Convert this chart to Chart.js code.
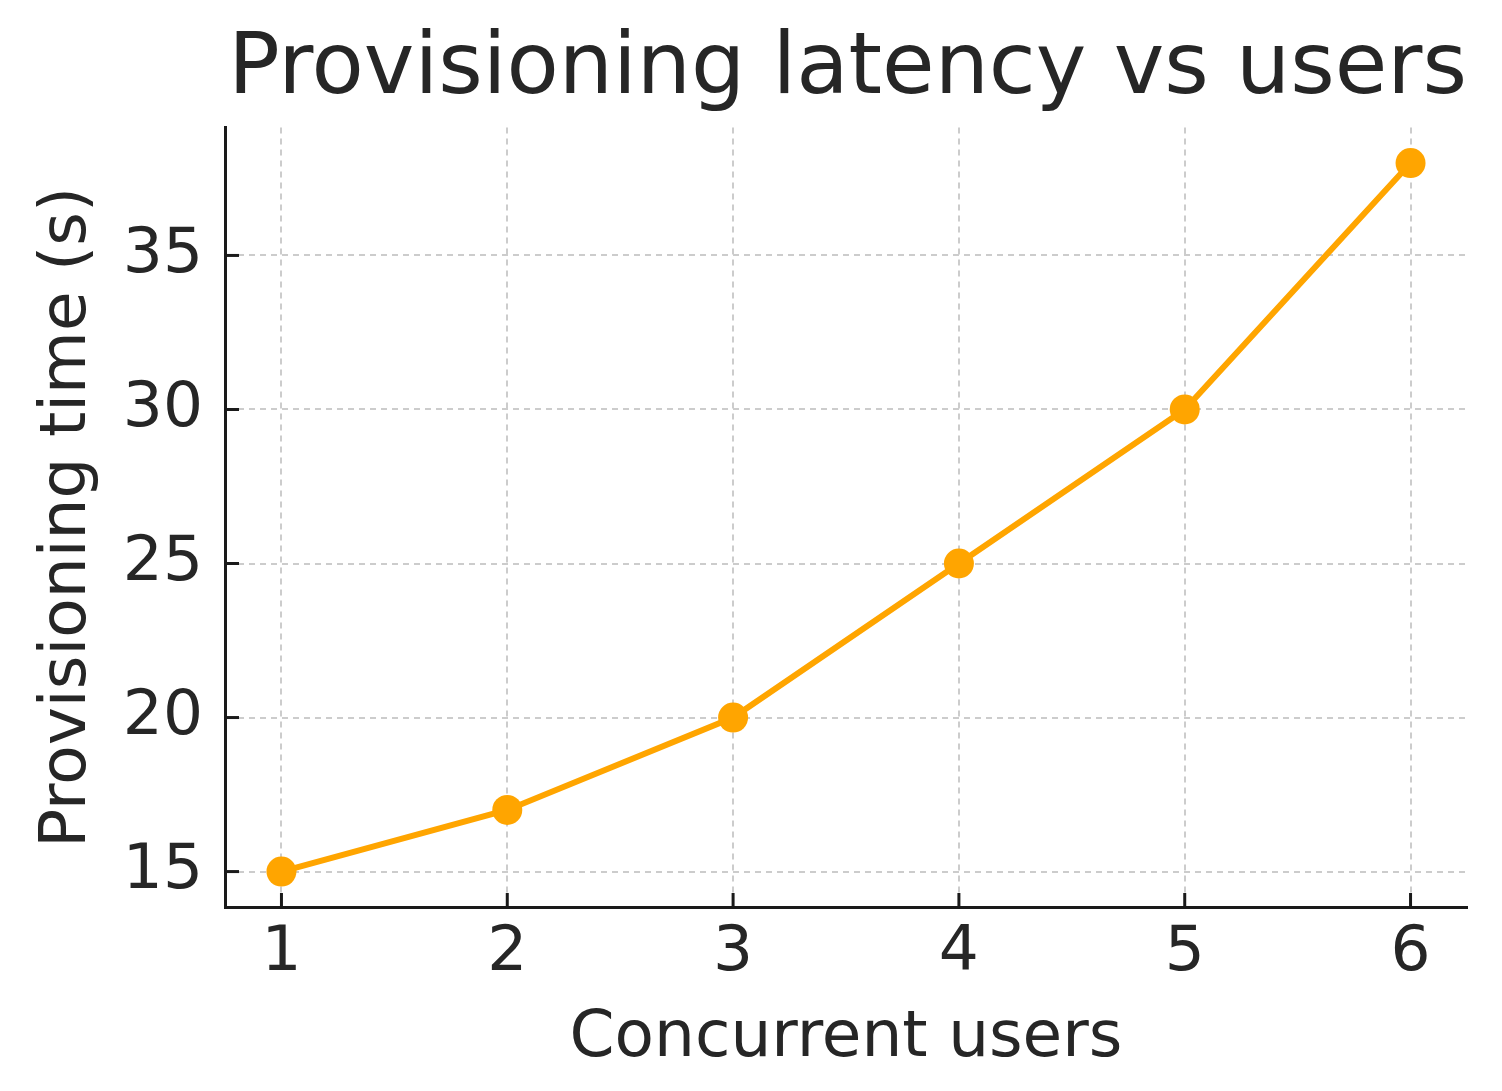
<!DOCTYPE html>
<html>
<head>
<meta charset="utf-8">
<script src="https://cdn.jsdelivr.net/npm/chart.js@4/dist/chart.umd.min.js"></script>
<style>
  html, body { margin: 0; padding: 0; background: #ffffff; }
  canvas { display: block; }
</style>
</head>
<body>
<canvas id="c" width="1502" height="1091"></canvas>
<script>
// ---- data ----
const users = [1, 2, 3, 4, 5, 6];
const provisioningTime = [15, 17, 20, 25, 30, 38];
const xTickValues = [1, 2, 3, 4, 5, 6];
const yTickValues = [15, 20, 25, 30, 35];
const titleText = 'Provisioning latency vs users';
const xAxisLabel = 'Concurrent users';
const yAxisLabel = 'Provisioning time (s)';

// ---- styles ----
const FONT = "'DejaVu Sans', 'Liberation Sans', sans-serif";
const TEXT = '#262626';
const SPINE = '#1a1a1a';
const ORANGE = '#FFA500';
const GRID = '#cccccc';

const inwardTicks = {
  id: 'inwardTicks',
  beforeDatasetsDraw(chart) {
    const { ctx, chartArea, scales } = chart;
    ctx.save();
    ctx.strokeStyle = SPINE;
    ctx.lineWidth = 3;
    ctx.setLineDash([]);
    scales.x.ticks.forEach(t => {
      const px = scales.x.getPixelForValue(t.value);
      ctx.beginPath();
      ctx.moveTo(px, chartArea.bottom);
      ctx.lineTo(px, chartArea.bottom - 14);
      ctx.stroke();
    });
    scales.y.ticks.forEach(t => {
      const py = scales.y.getPixelForValue(t.value);
      ctx.beginPath();
      ctx.moveTo(chartArea.left, py);
      ctx.lineTo(chartArea.left + 14, py);
      ctx.stroke();
    });
    ctx.restore();
  }
};

const xMin = Math.min(...users), xMax = Math.max(...users);
const yMin = Math.min(...provisioningTime), yMax = Math.max(...provisioningTime);
const xMargin = (xMax - xMin) * 0.05;
const yMargin = (yMax - yMin) * 0.05;

new Chart(document.getElementById('c'), {
  type: 'line',
  data: {
    datasets: [{
      data: users.map((u, i) => ({ x: u, y: provisioningTime[i] })),
      borderColor: ORANGE,
      backgroundColor: ORANGE,
      borderWidth: 6,
      pointRadius: 15,
      pointHoverRadius: 15,
      pointBackgroundColor: ORANGE,
      pointBorderWidth: 0,
      tension: 0,
      fill: false,
      clip: false
    }]
  },
  options: {
    responsive: false,
    animation: false,
    devicePixelRatio: 1,
    layout: { padding: { left: 0, right: 35, top: 0, bottom: 0 } },
    plugins: {
      legend: { display: false },
      tooltip: { enabled: false },
      title: {
        display: true,
        text: titleText,
        align: 'end',
        color: TEXT,
        font: { family: FONT, size: 85.5, weight: 'normal', lineHeight: 1.2 },
        padding: { top: 19, bottom: 6 }
      }
    },
    scales: {
      x: {
        type: 'linear',
        min: xMin - xMargin,
        max: xMax + xMargin,
        afterBuildTicks: s => { s.ticks = xTickValues.map(v => ({ value: v })); },
        afterFit: s => { s.height = 184; },
        ticks: {
          color: TEXT,
          font: { family: FONT, size: 63 },
          padding: 9,
          maxRotation: 0,
          callback: v => String(v)
        },
        grid: { color: GRID, lineWidth: 2, drawTicks: false },
        border: { display: true, color: SPINE, width: 3, dash: [6, 5] },
        title: {
          display: true,
          text: xAxisLabel,
          color: TEXT,
          font: { family: FONT, size: 64.5, lineHeight: 1.2 },
          padding: { top: 0, bottom: 13 }
        }
      },
      y: {
        type: 'linear',
        min: yMin - yMargin,
        max: yMax + yMargin,
        afterBuildTicks: s => { s.ticks = yTickValues.map(v => ({ value: v })); },
        afterFit: s => { s.width = 225; },
        ticks: {
          color: TEXT,
          font: { family: FONT, size: 63 },
          padding: 22,
          callback: v => String(v)
        },
        grid: { color: GRID, lineWidth: 2, drawTicks: false },
        border: { display: true, color: SPINE, width: 3, dash: [6, 5] },
        title: {
          display: true,
          text: yAxisLabel,
          color: TEXT,
          font: { family: FONT, size: 64.5, lineHeight: 1.2 },
          padding: { top: 30, bottom: 0 }
        }
      }
    }
  },
  plugins: [inwardTicks]
});
</script>
</body>
</html>
